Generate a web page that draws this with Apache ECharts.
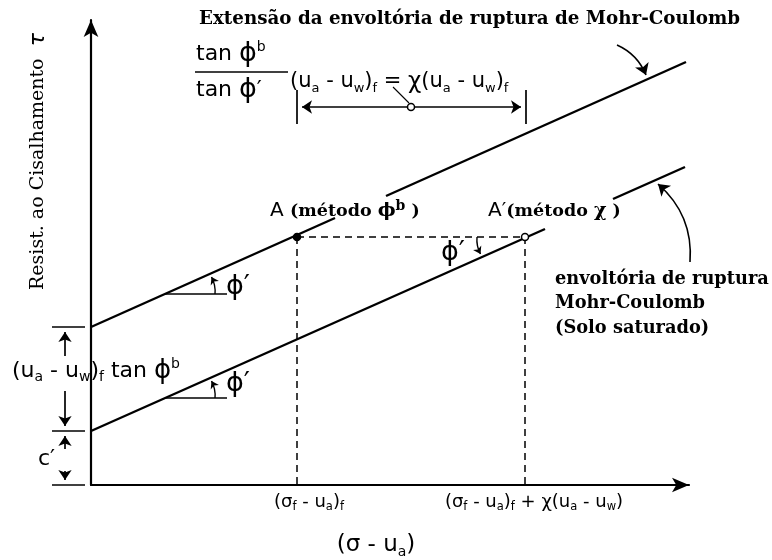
<!DOCTYPE html>
<html>
<head>
<meta charset="utf-8">
<script src="https://cdn.jsdelivr.net/npm/echarts@6/dist/echarts.min.js"></script>
<style>
  html, body { margin: 0; padding: 0; background: #fff; }
  #c { width: 772px; height: 560px; }
</style>
</head>
<body>
<div id="c"></div>
<script>
// Envoltórias de ruptura no plano (σ - ua, τ); 1 unidade do esquema = 10 px

// envoltória estendida (interrompida junto ao rótulo de A)
const upperEnvelope = [
  [[0, 15.8], [24.4, 26.7]],
  [[29.5, 28.9], [59.5, 42.3]]
];
// envoltória do solo saturado (interrompida junto ao rótulo de A′)
const saturatedEnvelope = [
  [[0, 5.4], [45.4, 25.6]],
  [[52.2, 28.6], [59.4, 31.8]]
];
// pontos de ruptura A (método φb) e A′ (método χ)
const failurePoints = [[20.6, 24.8], [43.4, 24.8]];
// linhas de projeção tracejadas
const projectionLines = [
  [[20.6, 24.8], [43.4, 24.8]],
  [[20.6, 24.8], [20.6, 0]],
  [[43.4, 24.8], [43.4, 0]]
];
// indicação do ângulo φ′
const angleRays = [
  [[7.4, 19.1], [13.6, 19.1]],
  [[7.4, 8.7], [13.6, 8.7]]
];
const angleArcs = [
  [[12.4, 19.1], [12.05, 20.8]],
  [[12.4, 8.7], [12.05, 10.4]],
  [[38.6, 24.8], [38.95, 23.1]]
];
// cotas à esquerda do eixo e extremos da cota superior
const dimensionTicks = [
  [[-3.9, 15.8], [-0.6, 15.8]],
  [[-3.9, 5.4], [-0.6, 5.4]],
  [[-3.9, 0], [-0.6, 0]],
  [[20.6, 39.5], [20.6, 36.1]],
  [[43.5, 39.5], [43.5, 36.1]]
];
const dimensionArrows = [
  [[-2.6, 12.9], [-2.6, 15.3]],
  [[-2.6, 9.4], [-2.6, 5.9]],
  [[-2.6, 3.6], [-2.6, 4.9]],
  [[-2.6, 1.4], [-2.6, 0.5]]
];
const spanArrow = [[21.1, 37.8], [43.0, 37.8]];
const spanMidpoint = [32.0, 37.8];
const spanLeader = [[31.8, 38.2], [30.2, 39.8]];
// setas de chamada das legendas
const calloutArrows = [
  [[52.6, 44.0], [55.5, 41.0]],
  [[59.9, 22.3], [56.7, 30.1]]
];
const calloutBends = [0.2, -0.25];

const SANS = 'DejaVu Sans';
const SERIF = 'DejaVu Serif';

function mathRich(main, sub, greek) {
  return {
    m: { fontFamily: SANS, fontSize: main, lineHeight: main + 5, fill: '#000' },
    s: { fontFamily: SANS, fontSize: sub, lineHeight: sub, verticalAlign: 'bottom', fill: '#000' },
    u: { fontFamily: SANS, fontSize: sub, lineHeight: sub, verticalAlign: 'top', fill: '#000' },
    g: { fontFamily: SANS, fontSize: greek, lineHeight: main + 5, fill: '#000' }
  };
}

function text(x, y, str, extra) {
  return {
    type: 'text', x: x, y: y, silent: true,
    style: Object.assign({ text: str, fill: '#000', align: 'left', verticalAlign: 'middle' }, extra || {})
  };
}

const labelRich = {
  a: { fontFamily: SANS, fontSize: 20, lineHeight: 24, fill: '#000' },
  t: { fontFamily: SERIF, fontWeight: 'bold', fontSize: 17.5, lineHeight: 24, fill: '#000' },
  g: { fontFamily: SERIF, fontWeight: 'bold', fontSize: 19, lineHeight: 24, fill: '#000' },
  u: { fontFamily: SERIF, fontWeight: 'bold', fontSize: 14, lineHeight: 12, verticalAlign: 'top', fill: '#000' }
};

const frac = mathRich(22, 14, 27);
const eq = mathRich(21, 13, 23);
const side = mathRich(22, 14, 26);
const angle = mathRich(22, 14, 27);
const small = mathRich(18, 11.5, 19);
const mid = mathRich(23, 14, 23);

const seg = arr => arr.map(c => ({ coords: c }));

// A em ponto cheio, A′ e o ponto médio da cota em círculo aberto
const pointFills = ['#000', '#fff', '#fff'];

const option = {
  animation: false,
  backgroundColor: '#fff',
  grid: { left: 91, right: 83, top: 20, bottom: 75 },
  xAxis: {
    type: 'value', min: 0, max: 59.8,
    axisLine: { show: true, lineStyle: { color: '#000', width: 2.2 }, symbol: ['none', 'arrow'], symbolSize: [11, 17] },
    axisTick: { show: false }, axisLabel: { show: false }, splitLine: { show: false }
  },
  yAxis: {
    type: 'value', min: 0, max: 46.5,
    axisLine: { show: true, lineStyle: { color: '#000', width: 2.2 }, symbol: ['none', 'arrow'], symbolSize: [11, 17] },
    axisTick: { show: false }, axisLabel: { show: false }, splitLine: { show: false }
  },
  series: [
    {
      type: 'lines', coordinateSystem: 'cartesian2d', clip: false, silent: true,
      symbol: 'none', lineStyle: { color: '#000', width: 2.4, opacity: 1 },
      data: seg(upperEnvelope.concat(saturatedEnvelope))
    },
    {
      type: 'lines', coordinateSystem: 'cartesian2d', clip: false, silent: true,
      symbol: 'none', lineStyle: { color: '#000', width: 1.5, type: [7, 5], opacity: 1 },
      data: seg(projectionLines)
    },
    {
      type: 'lines', coordinateSystem: 'cartesian2d', clip: false, silent: true,
      symbol: 'none', lineStyle: { color: '#000', width: 1.7, opacity: 1 },
      data: seg(angleRays.concat(dimensionTicks))
    },
    {
      type: 'lines', coordinateSystem: 'cartesian2d', clip: false, silent: true,
      symbol: ['none', 'arrow'], symbolSize: 7,
      lineStyle: { color: '#000', width: 1.4, curveness: -0.15, opacity: 1 },
      data: seg(angleArcs)
    },
    {
      type: 'lines', coordinateSystem: 'cartesian2d', clip: false, silent: true,
      symbol: ['none', 'arrow'], symbolSize: 10,
      lineStyle: { color: '#000', width: 1.7, opacity: 1 },
      data: seg(dimensionArrows)
    },
    {
      type: 'lines', coordinateSystem: 'cartesian2d', clip: false, silent: true,
      symbol: ['arrow', 'arrow'], symbolSize: 10,
      lineStyle: { color: '#000', width: 1.7, opacity: 1 },
      data: seg([spanArrow])
    },
    {
      type: 'lines', coordinateSystem: 'cartesian2d', clip: false, silent: true,
      symbol: 'none', lineStyle: { color: '#000', width: 1.1, opacity: 1 },
      data: seg([spanLeader])
    },
    {
      type: 'lines', coordinateSystem: 'cartesian2d', clip: false, silent: true,
      symbol: ['none', 'arrow'], symbolSize: 11,
      lineStyle: { color: '#000', width: 1.6, opacity: 1 },
      data: calloutArrows.map((c, i) => ({ coords: c, lineStyle: { curveness: calloutBends[i] } }))
    },
    {
      type: 'scatter', silent: true, symbol: 'circle', symbolSize: 7,
      itemStyle: { color: '#fff', borderColor: '#000', borderWidth: 1.5, opacity: 1 },
      data: failurePoints.concat([spanMidpoint]).map((p, i) => ({ value: p, itemStyle: { color: pointFills[i] } })),
      z: 5
    }
  ],
  graphic: [
    text(199, 19, 'Extensão da envoltória de ruptura de Mohr-Coulomb', { font: 'bold 18.3px "DejaVu Serif"' }),
    text(196, 54, '{m|tan }{g|ϕ}{u|b}', { rich: frac }),
    {
      type: 'line', silent: true,
      shape: { x1: 195, y1: 72, x2: 288, y2: 72 },
      style: { stroke: '#000', lineWidth: 1.7 }
    },
    text(196, 90, '{m|tan }{g|ϕ}{m|′}', { rich: frac }),
    text(290, 82, '{m|(u}{s|a}{m| - u}{s|w}{m|)}{s|f}{m| = }{g|χ}{m|(u}{s|a}{m| - u}{s|w}{m|)}{s|f}', { rich: eq }),
    text(270, 211, '{a|A }{t|(método }{g|ϕ}{u|b}{t| )}', { rich: labelRich }),
    text(488, 211, '{a|A′}{t|(método }{g|χ}{t| )}', { rich: labelRich }),
    text(226, 287, '{g|ϕ′}', { rich: angle }),
    text(226, 384, '{g|ϕ′}', { rich: angle }),
    text(441, 253, '{g|ϕ′}', { rich: angle }),
    text(12, 371, '{m|(u}{s|a}{m| - u}{s|w}{m|)}{s|f}{m| tan }{g|ϕ}{u|b}', { rich: side }),
    text(38, 459, '{m|c′}', { rich: side }),
    text(555, 279, 'envoltória de ruptura', { font: 'bold 17.8px "DejaVu Serif"' }),
    text(555, 303, 'Mohr-Coulomb', { font: 'bold 17.8px "DejaVu Serif"' }),
    text(555, 328, '(Solo saturado)', { font: 'bold 17.8px "DejaVu Serif"' }),
    text(309, 502, '{m|(σ}{s|f}{m| - u}{s|a}{m|)}{s|f}', { rich: small, align: 'center' }),
    text(534, 502, '{m|(σ}{s|f}{m| - u}{s|a}{m|)}{s|f}{m| + χ(u}{s|a}{m| - u}{s|w}{m|)}', { rich: small, align: 'center' }),
    text(376, 545, '{m|(σ - u}{s|a}{m|)}', { rich: mid, align: 'center' }),
    Object.assign(text(38, 290, '{t|Resist. ao Cisalhamento  }{g|τ}', {
      rich: {
        t: { fontFamily: SERIF, fontSize: 19, lineHeight: 24, fill: '#000' },
        g: { fontFamily: SANS, fontStyle: 'italic', fontSize: 22, lineHeight: 24, fill: '#000' }
      }
    }), { rotation: Math.PI / 2 })
  ]
};

const chart = echarts.init(document.getElementById('c'));
chart.setOption(option);
</script>
</body>
</html>
